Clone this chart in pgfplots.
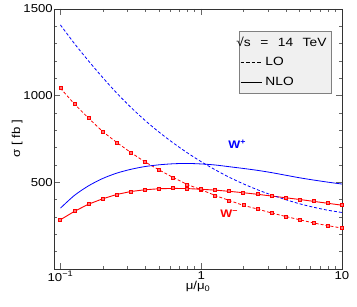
\documentclass[border=0pt]{standalone}
\usepackage{fontspec}
\setmainfont{Liberation Sans}[FakeStretch=1.15]
\usepackage{pgfplots}
\pgfplotsset{compat=1.18}
\pgfplotstableread{
x       lored  nlored lobl  nlobl
0.1     1043   284    1408  351
0.1259  951    333    1300  425
0.1585  870    374    1200  480
0.1995  793    405    1105  522
0.2512  730    430    1015  553
0.3162  672    447    933   575
0.3981  618    457    858   591
0.5012  572    463    790   601
0.6310  528    465    728   607
0.7943  488    464    671   609
1       457    460    619   606
1.259   424    455    572   600
1.585   395    448    529   590
1.995   367    440    491   580
2.512   346    431    457   569
3.162   323    421    427   556
3.981   303    411    400   541
5.012   284    401    376   526
6.310   265    390    356   513
7.943   250    379    339   501
10      236    368    326   490
}\data
\begin{document}
\fontsize{11.5}{13}\selectfont
\begin{tikzpicture}
\begin{axis}[name=ax, scale only axis, width=288bp, height=260bp,
  xmode=log, xmin=0.09, xmax=10, ymin=0, ymax=1500,
  xtick={0.1,1,10}, xticklabels={10\textsuperscript{−1},1,10},
  ytick={500,1000,1500}, yticklabels={500,1000,1500},
  minor ytick={100,200,300,400,600,700,800,900,1100,1200,1300,1400},
  tick align=inside, major tick length=6bp, minor tick length=3bp,
  every tick/.style={gray!80!black, line width=0.6bp},
  axis line style={black!80, line width=0.8bp},
  /pgf/number format/assume math mode=true,
  tick label style={font=\fontsize{11.5}{13}\selectfont},
  yticklabel style={inner xsep=1pt},
  xticklabel style={inner ysep=2pt},
  xlabel={μ/μ\textsubscript{0}}, ylabel={σ [ fb ]},
  xlabel style={yshift=6bp}, ylabel style={yshift=-4bp},
  legend cell align=left,
  legend style={at={(0.964,0.917)}, anchor=north east, fill=black!6, draw=gray,
    font=\fontsize{12}{13}\selectfont, inner xsep=1.5bp, inner ysep=5bp, row sep=7.5bp,
    nodes={inner xsep=3.5bp, inner ysep=1bp}},
  legend image code/.code={\draw[#1] (0bp,0bp) -- (21bp,0bp);},
]
\addplot[red, line width=0.8bp, dash pattern=on 3bp off 2bp, mark=square*, mark size=1.5pt,
  mark options={solid, fill=red!55, draw=red}, forget plot] table[x=x,y=lored]{\data};
\addplot[red, line width=0.9bp, mark=square*, mark size=1.5pt,
  mark options={solid, fill=red!55, draw=red}, forget plot] table[x=x,y=nlored]{\data};
\addplot[blue, line width=0.8bp, dash pattern=on 3bp off 2bp, smooth, forget plot] table[x=x,y=lobl]{\data};
\addplot[blue, line width=0.8bp, smooth, forget plot] table[x=x,y=nlobl]{\data};
\addlegendimage{empty legend}
\addlegendentry{\hspace{-29bp}\makebox[90bp][s]{√s = 14 TeV}}
\addlegendimage{black, line width=0.6bp, dash pattern=on 3.5bp off 2bp}
\addlegendentry{LO}
\addlegendimage{black, line width=0.6bp}
\addlegendentry{NLO}
\node[blue, font=\bfseries\fontsize{11}{13}\selectfont] at (axis cs:1.8,722) {W\textsuperscript{+}};
\node[red, font=\bfseries\fontsize{11}{13}\selectfont] at (axis cs:1.58,319) {W\textsuperscript{−}};
\end{axis}
\pgfresetboundingbox
\path ([shift={(-54bp,-37.7bp)}]ax.south west) rectangle ([shift={(15bp,9bp)}]ax.north east);
\end{tikzpicture}
\end{document}
